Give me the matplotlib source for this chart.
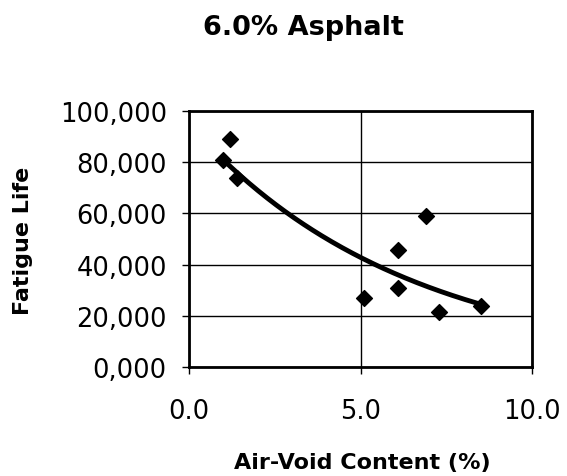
import numpy as np
import matplotlib
matplotlib.use("Agg")
import matplotlib.pyplot as plt

plt.rcParams['font.family'] = ['DejaVu Sans']

# Data
air_void = [1.2, 1.0, 1.4, 6.9, 6.1, 6.1, 5.1, 7.3, 8.5]
fatigue_life = [89000, 81000, 73700, 59100, 45700, 30700, 26800, 21600, 23700]

x_ticks = [0.0, 5.0, 10.0]
x_tick_labels = ["0.0", "5.0", "10.0"]
y_ticks = [0, 20000, 40000, 60000, 80000, 100000]
y_tick_labels = ["0,000", "20,000", "40,000", "60,000", "80,000", "100,000"]

fig = plt.figure(figsize=(5.67, 4.77), dpi=100)
ax = fig.add_axes([189/567, 1-368/477, (532-189)/567, (368-112)/477])

# Exponential trendline (fit as in spreadsheet software)
xa = np.array(air_void)
ya = np.array(fatigue_life)
b, lna = np.polyfit(xa, np.log(ya), 1)
xt = np.linspace(xa.min(), xa.max(), 200)
ax.plot(xt, np.exp(lna) * np.exp(b * xt), color='black', lw=3.5, zorder=3)

ax.scatter(air_void, fatigue_life, marker='D', s=65, color='black', zorder=4)

ax.set_xlim(0, 10)
ax.set_ylim(0, 100000)
ax.set_xticks(x_ticks)
ax.set_xticklabels(x_tick_labels)
ax.set_yticks(y_ticks)
ax.set_yticklabels(y_tick_labels)
ax.grid(True, color='black', lw=1.0)
ax.set_axisbelow(True)
for s in ax.spines.values():
    s.set_linewidth(2)
ax.tick_params(direction='out', length=5, width=1, labelsize=18.5)
ax.tick_params(axis='y', pad=11)
ax.tick_params(axis='x', pad=17)

fig.text(203/567, 1-35/477, "6.0% Asphalt", ha='left', va='baseline',
         fontsize=19.5, fontweight='bold')
fig.text(23/567, 1-240.5/477, "Fatigue Life", ha='center', va='center',
         rotation=90, fontsize=16, fontweight='bold')
fig.text(362/567, 1-469/477, "Air-Void Content (%)", ha='center', va='baseline',
         fontsize=16, fontweight='bold')

fig.savefig("out.png", dpi=100)
